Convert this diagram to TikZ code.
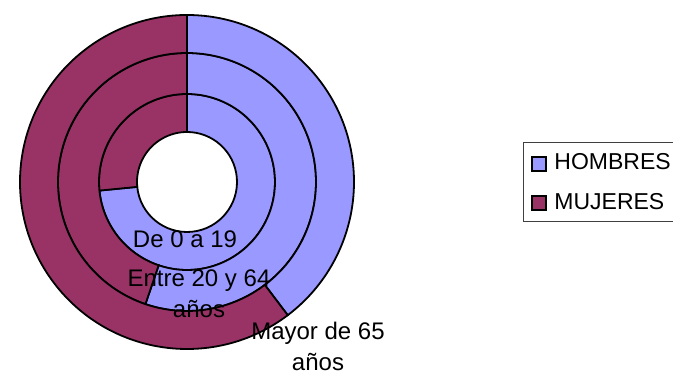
\documentclass[tikz,border=0pt]{standalone}
\usepackage{fontspec}
\setmainfont{Liberation Sans}
\definecolor{hombres}{HTML}{9999FF}
\definecolor{mujeres}{HTML}{993366}
\begin{document}
\begin{tikzpicture}[x=0.5pt,y=0.5pt,
    ring/.style={draw=black,line width=0.9pt},
    lbl/.style={font=\fontsize{12}{15.5}\selectfont,align=center,inner sep=0pt},
    keytext/.style={font=\fontsize{11.5}{14}\selectfont,inner sep=0pt,anchor=base west},
    key/.style={draw=black,line width=0.7pt,minimum size=7pt,inner sep=0pt}]

  \clip (0,0) rectangle (673,373);

  \begin{scope}[shift={(187,191)}]
    % inner radius / outer radius / end angle of HOMBRES
    \foreach \ri/\ro/\a in {50/88/-174.4, 88/129/-108.8, 129/167/-52.9} {
      \filldraw[ring,fill=hombres] (90:\ro) arc[start angle=90,end angle=\a,radius=\ro]
        -- (\a:\ri) arc[start angle=\a,end angle=90,radius=\ri] -- cycle;
      \filldraw[ring,fill=mujeres] (\a:\ro) arc[start angle=\a,end angle=-270,radius=\ro]
        -- (-270:\ri) arc[start angle=-270,end angle=\a,radius=\ri] -- cycle;
    }
  \end{scope}

  \node[lbl,anchor=base] (young)  at (185,125.7) {De 0 a 19};
  \node[lbl,anchor=base] (adult)  at (199,55)    {Entre 20 y 64\\años};
  \node[lbl,anchor=base] (senior) at (318,2.5)   {Mayor de 65\\años};

  \draw[black!75,line width=0.5pt] (523,151.3) rectangle (690,230.3);
  \node[key,fill=hombres] (keyh) at (539,209) {};
  \node[key,fill=mujeres] (keym) at (539,170) {};
  \node[keytext] (texth) at (554,203) {HOMBRES};
  \node[keytext] (textm) at (554,163) {MUJERES};

\end{tikzpicture}
\end{document}
